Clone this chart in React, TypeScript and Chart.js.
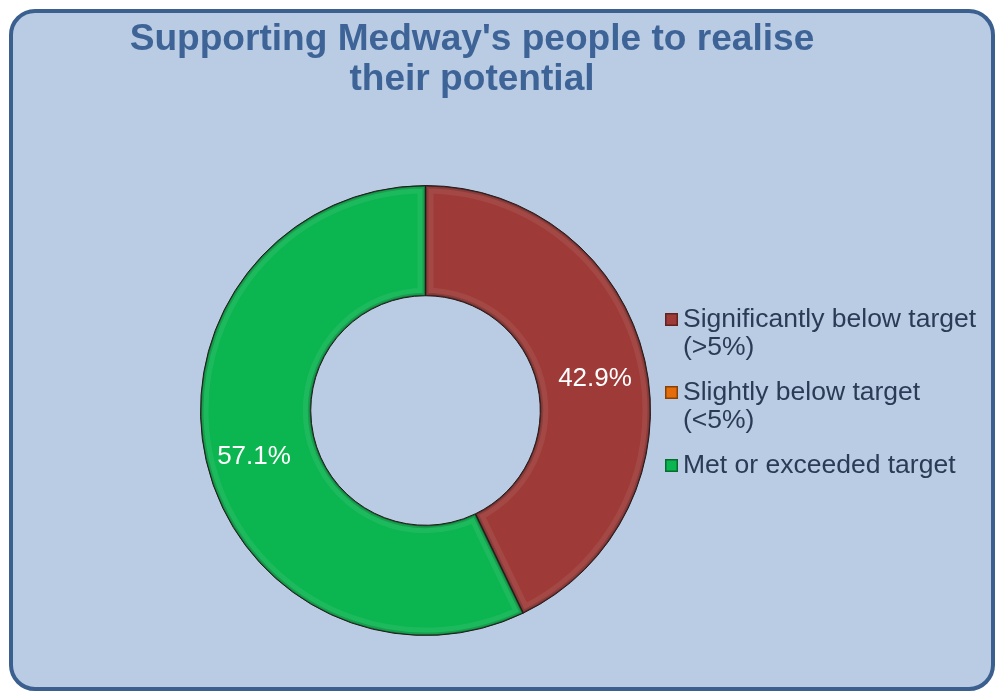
import React, { useEffect, useRef } from "react";
import { Chart, registerables } from "chart.js";

Chart.register(...registerables);

const categories = ["Significantly below target (>5%)", "Slightly below target (<5%)", "Met or exceeded target"];
const legendLines = [["Significantly below target", "(>5%)"], ["Slightly below target", "(<5%)"], ["Met or exceeded target"]];
const values = [3, 0, 4];
const colors = ["#9e3b38", "#e46c0a", "#0bb550"];
const titleLines = ["Supporting Medway's people to realise", "their potential"];

const FONT = "'Liberation Sans', Arial, sans-serif";

const framePlugin = {
  id: "frame",
  beforeDraw(chart: any) {
    const ctx = chart.ctx;
    ctx.save();
    ctx.fillStyle = "#ffffff";
    ctx.fillRect(0, 0, chart.width, chart.height);
    const x = 11, y = 11, w = 982, h = 678, r = 24;
    ctx.beginPath();
    ctx.moveTo(x + r, y);
    ctx.arcTo(x + w, y, x + w, y + h, r);
    ctx.arcTo(x + w, y + h, x, y + h, r);
    ctx.arcTo(x, y + h, x, y, r);
    ctx.arcTo(x, y, x + w, y, r);
    ctx.closePath();
    ctx.fillStyle = "#b9cce4";
    ctx.fill();
    ctx.lineWidth = 4;
    ctx.strokeStyle = "#3b5f8e";
    ctx.stroke();
    ctx.restore();
  },
  afterDatasetsDraw(chart: any) {
    // bevel shading inside each slice
    const ctx = chart.ctx;
    const meta = chart.getDatasetMeta(0);
    meta.data.forEach((arc: any, i: number) => {
      if (!values[i]) return;
      const { x, y, startAngle, endAngle, innerRadius, outerRadius } = arc.getProps(
        ["x", "y", "startAngle", "endAngle", "innerRadius", "outerRadius"],
        true
      );
      ctx.save();
      ctx.beginPath();
      ctx.arc(x, y, outerRadius, startAngle, endAngle);
      ctx.arc(x, y, innerRadius, endAngle, startAngle, true);
      ctx.closePath();
      ctx.clip();
      ctx.lineJoin = "round";
      ctx.strokeStyle = "rgba(255,255,255,0.07)";
      ctx.lineWidth = 16;
      ctx.stroke();
      ctx.strokeStyle = "rgba(0,0,0,0.15)";
      ctx.lineWidth = 6;
      ctx.stroke();
      ctx.strokeStyle = "rgba(0,0,0,0.3)";
      ctx.lineWidth = 2.5;
      ctx.stroke();
      ctx.restore();
    });
  },
  afterDraw(chart: any) {
    const ctx = chart.ctx;
    ctx.save();
    // title
    ctx.fillStyle = "#3e6497";
    ctx.font = `bold 36px ${FONT}`;
    ctx.textAlign = "center";
    ctx.textBaseline = "alphabetic";
    const sx = 1.03;
    ctx.save();
    ctx.scale(sx, 1);
    ctx.fillText(titleLines[0], 472 / sx, 50);
    ctx.fillText(titleLines[1], 472 / sx, 90);
    ctx.restore();
    // data labels
    const meta = chart.getDatasetMeta(0);
    const total = values.reduce((a, b) => a + b, 0);
    ctx.font = `26px ${FONT}`;
    ctx.fillStyle = "#ffffff";
    ctx.textBaseline = "middle";
    meta.data.forEach((arc: any, i: number) => {
      if (!values[i]) return;
      const { x, y, startAngle, endAngle, innerRadius, outerRadius } = arc.getProps(
        ["x", "y", "startAngle", "endAngle", "innerRadius", "outerRadius"],
        true
      );
      const mid = (startAngle + endAngle) / 2;
      const rr = (innerRadius + outerRadius) / 2 + 5;
      ctx.fillText(((values[i] / total) * 100).toFixed(1) + "%", x + Math.cos(mid) * rr - 1, y + Math.sin(mid) * rr + 7);
    });
    // legend
    ctx.textAlign = "left";
    ctx.textBaseline = "alphabetic";
    ctx.font = `26.5px ${FONT}`;
    let ly = 327;
    legendLines.forEach((lines, i) => {
      ctx.fillStyle = colors[i];
      ctx.fillRect(665, ly - 14, 13, 13);
      ctx.strokeStyle = "rgba(0,0,0,0.4)";
      ctx.lineWidth = 1.5;
      ctx.strokeRect(665.75, ly - 13.25, 11.5, 11.5);
      ctx.fillStyle = "#2a3b55";
      lines.forEach((t, j) => {
        ctx.fillText(t, 683, ly + j * 28);
      });
      ly += lines.length * 28 + 17;
    });
    ctx.restore();
  },
};

export default function App() {
  const ref = useRef<HTMLCanvasElement>(null);
  useEffect(() => {
    const chart = new Chart(ref.current!, {
      type: "doughnut",
      data: {
        labels: categories,
        datasets: [
          {
            data: values,
            backgroundColor: colors,
            borderColor: "#2b1a1a",
            borderWidth: 1,
          },
        ],
      },
      options: {
        animation: false,
        responsive: false,
        cutout: "51%",
        layout: { padding: { left: 200, right: 346, top: 185, bottom: 57 } },
        plugins: { legend: { display: false }, tooltip: { enabled: false }, title: { display: false } },
      },
      plugins: [framePlugin],
    });
    return () => chart.destroy();
  }, []);
  return (
    <div style={{ position: "fixed", left: 0, top: 0, width: 997, height: 693 }}>
      <canvas ref={ref} width={997} height={693} style={{ width: 997, height: 693, display: "block" }} />
    </div>
  );
}
